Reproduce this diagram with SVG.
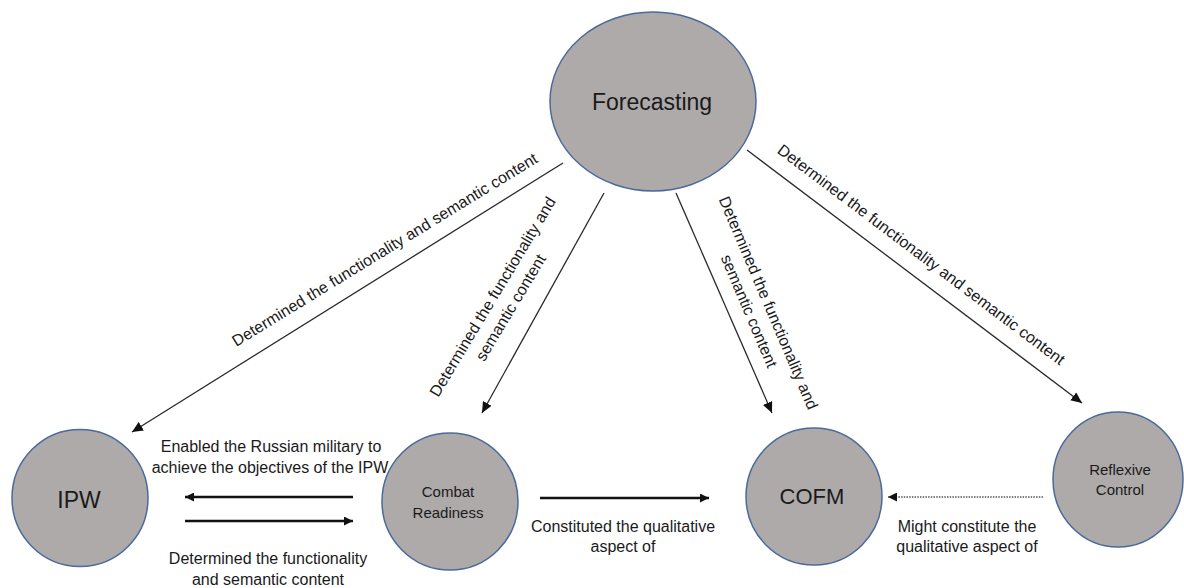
<svg xmlns="http://www.w3.org/2000/svg" width="1184" height="588" viewBox="0 0 1184 588">
<style>
.node{fill:#aeaaaa;stroke:#4a6a9a;stroke-width:1.5}
text{font-family:"Liberation Sans",Arial,sans-serif;fill:#1a1a1a}
.big{font-size:23px}
.mid{font-size:15px}
.lbl{font-size:16px}
.c{text-anchor:middle}
.thin{stroke:#2a2a2a;stroke-width:1.3;fill:none}
.thick{stroke:#111;stroke-width:2.6;fill:none}
.dot{stroke:#555;stroke-width:1.3;stroke-dasharray:1.5 1.2;fill:none}
</style>
<defs>
<marker id="ah" markerUnits="userSpaceOnUse" markerWidth="12" markerHeight="10" refX="11" refY="5" orient="auto">
<path d="M0,0 L11,5 L0,10 Z" fill="#111"/>
</marker>
<marker id="ahs" markerUnits="userSpaceOnUse" markerWidth="10" markerHeight="9" refX="9" refY="4.5" orient="auto">
<path d="M0,0 L9,4.5 L0,9 Z" fill="#111"/>
</marker>
</defs>
<rect width="1184" height="588" fill="#ffffff"/>

<g id="connectors">
<line class="thin" x1="563" y1="163" x2="132" y2="432" marker-end="url(#ah)"/>
<line class="thin" x1="604" y1="193" x2="482" y2="413" marker-end="url(#ah)"/>
<line class="thin" x1="676" y1="193" x2="772" y2="413" marker-end="url(#ah)"/>
<line class="thin" x1="747" y1="150" x2="1082" y2="403" marker-end="url(#ah)"/>
<line class="thick" x1="353" y1="497" x2="185" y2="497" marker-end="url(#ahs)"/>
<line class="thick" x1="185" y1="521" x2="353" y2="521" marker-end="url(#ahs)"/>
<line class="thick" x1="540" y1="498" x2="709" y2="498" marker-end="url(#ahs)"/>
<line class="dot" x1="1043" y1="497" x2="888" y2="497" marker-end="url(#ahs)"/>

<text class="lbl c" transform="translate(385,250) rotate(-31.5)" y="5">Determined the functionality and semantic content</text>
<g transform="translate(493,297) rotate(-59)">
<text class="lbl c" y="5">Determined the functionality and</text>
<text class="lbl c" y="26">semantic content</text>
</g>
<g transform="translate(768,303) rotate(67)">
<text class="lbl c" y="5">Determined the functionality and</text>
<text class="lbl c" y="26">semantic content</text>
</g>
<text class="lbl c" transform="translate(921,255) rotate(37)" y="5">Determined the functionality and semantic content</text>

<text class="lbl c" x="271" y="452">Enabled the Russian military to</text>
<text class="lbl c" x="270" y="473">achieve the objectives of the IPW</text>
<text class="lbl c" x="268" y="564">Determined the functionality</text>
<text class="lbl c" x="268" y="585">and semantic content</text>
<text class="lbl c" x="623" y="532">Constituted the qualitative</text>
<text class="lbl c" x="623" y="552">aspect of</text>
<text class="lbl c" x="967" y="532">Might constitute the</text>
<text class="lbl c" x="967" y="552">qualitative aspect of</text>
</g>

<g id="forecasting">
<ellipse class="node" cx="653" cy="101.5" rx="103" ry="89.5"/>
<text class="big c" x="652" y="110">Forecasting</text>
</g>
<g id="ipw">
<ellipse class="node" cx="80" cy="498" rx="68" ry="68.5"/>
<text class="big c" x="79" y="508">IPW</text>
</g>
<g id="combat-readiness">
<ellipse class="node" cx="450" cy="501.5" rx="68" ry="68.5"/>
<text class="mid c" x="448" y="497">Combat</text>
<text class="mid c" x="448" y="518">Readiness</text>
</g>
<g id="cofm">
<ellipse class="node" cx="814" cy="496.5" rx="68" ry="68.5"/>
<text class="c" style="font-size:22px" x="812" y="504">COFM</text>
</g>
<g id="reflexive-control">
<ellipse class="node" cx="1118" cy="479.5" rx="65" ry="67.5"/>
<text class="mid c" x="1120" y="475">Reflexive</text>
<text class="mid c" x="1120" y="495">Control</text>
</g>
</svg>
